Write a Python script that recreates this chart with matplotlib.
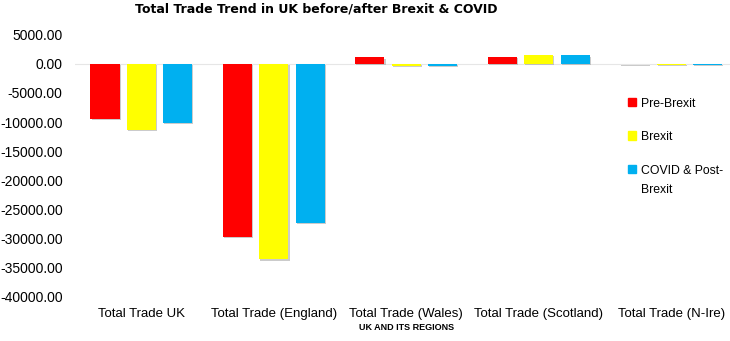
import numpy as np
import matplotlib
matplotlib.use("Agg")
import matplotlib.pyplot as plt
import matplotlib.patheffects as pe
from matplotlib.patches import Patch

categories = ["Total Trade UK", "Total Trade (England)", "Total Trade (Wales)",
              "Total Trade (Scotland)", "Total Trade (N-Ire)"]
pre_brexit = [-9500, -29700, 1100, 1200, -100]
brexit = [-11300, -33600, -400, 1500, -200]
covid_post = [-10200, -27300, -300, 1450, -150]
series_names = ["Pre-Brexit", "Brexit", "COVID & Post-\nBrexit"]
colors = ["#FF0000", "#FFFF00", "#00B0F0"]

plt.rcParams['font.family'] = ['Liberation Sans', 'DejaVu Sans']

fig = plt.figure(figsize=(7.3, 3.41), dpi=100)
ax = fig.add_axes([0.103, 0.130, 0.907, 0.768])

x = np.arange(len(categories))
w = 0.22
off = 0.275
shadow = [pe.SimplePatchShadow(offset=(0.8, -0.8), shadow_rgbFace="#999999", alpha=0.5), pe.Normal()]
for i, vals in enumerate([pre_brexit, brexit, covid_post]):
    bars = ax.bar(x + (i - 1) * off, vals, w, color=colors[i], zorder=3)
    for b in bars:
        b.set_path_effects(shadow)

ax.set_xlim(-0.5, len(categories) - 0.5)
ax.set_ylim(-40000, 5000)
ax.set_yticks(np.arange(-40000, 5001, 5000))
ax.set_yticklabels([f"{v:.2f}" for v in np.arange(-40000, 5001, 5000)], fontsize=10)
ax.set_xticks(x)
ax.set_xticklabels(categories, fontsize=9.5)
ax.tick_params(axis='both', length=0)
ax.tick_params(axis='x', pad=8)
ax.tick_params(axis='y', pad=9)
for s in ax.spines.values():
    s.set_visible(False)
ax.axhline(0, color="#e6e6e6", lw=0.8, zorder=1)

ax.set_xlabel("UK AND ITS REGIONS", fontsize=6.5, fontweight='bold', labelpad=2)
fig.text(0.433, 0.975, "Total Trade Trend in UK before/after Brexit & COVID",
         ha='center', va='center', fontsize=9, fontweight='bold', family='DejaVu Sans')

handles = [Patch(color=c) for c in colors]
leg = fig.legend(handles, series_names, loc='upper left', bbox_to_anchor=(0.845, 0.745),
                 frameon=False, fontsize=8.8, handlelength=0.65, handleheight=0.65,
                 handletextpad=0.4, labelspacing=1.75)
for t in leg.get_texts():
    t.set_linespacing(1.8)
# put the square next to the first line of a wrapped label
for col in leg._legend_handle_box.get_children():
    for row in col.get_children():
        row.align = 'top'

fig.savefig("out.png", dpi=100)
